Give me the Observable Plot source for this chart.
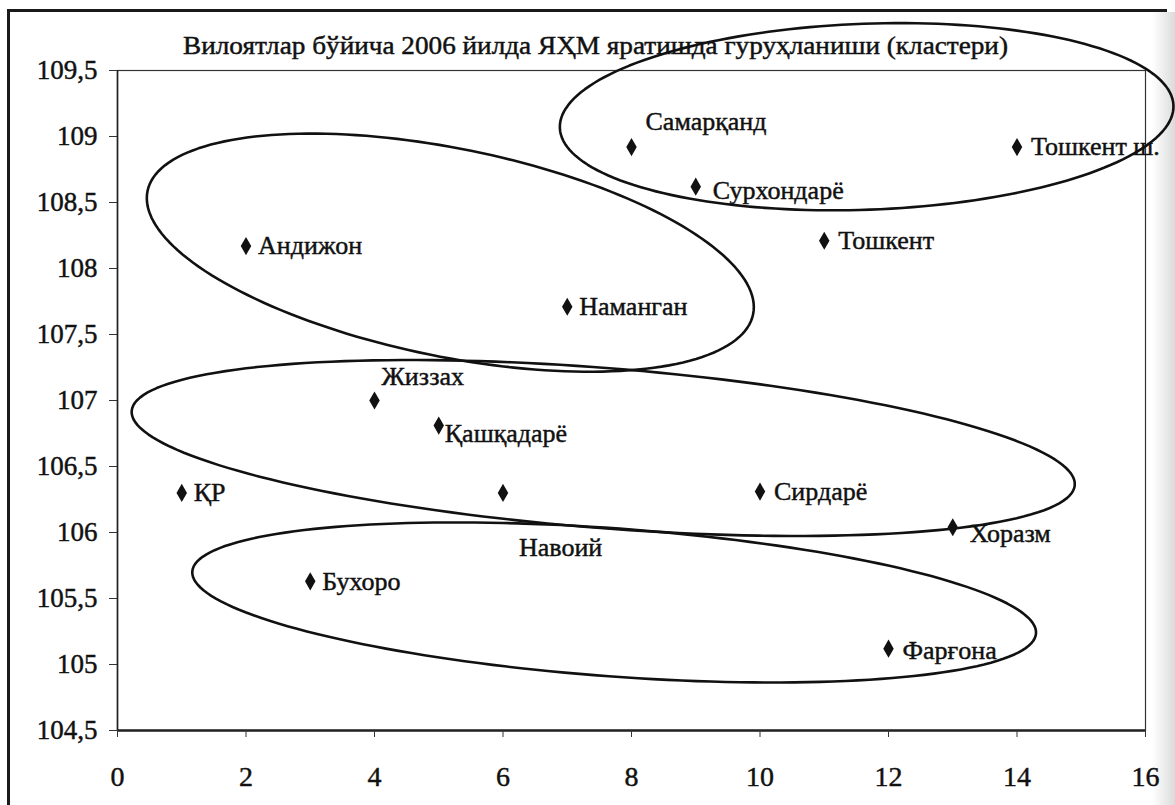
<!DOCTYPE html>
<html>
<head>
<meta charset="utf-8">
<script src="https://cdn.jsdelivr.net/npm/d3@7"></script>
<script src="https://cdn.jsdelivr.net/npm/@observablehq/plot@0.6"></script>
<style>
  html, body { margin: 0; padding: 0; background: #fff; }
  #wrap { position: relative; width: 1175px; height: 805px; overflow: hidden; background: #fff; }
  #border { position: absolute; left: 7px; top: 9px; width: 1160px; height: 800px;
            border-left: 3px solid #1a1a1a; border-top: 3px solid #1a1a1a; box-sizing: border-box; }
  #shade { position: absolute; left: 1152px; top: 12px; width: 23px; height: 793px;
           background: linear-gradient(to right, rgba(255,255,255,0), rgba(190,190,190,0.55)); }
  #chart { position: absolute; left: 0; top: 0; }
  #chart svg, #chart svg text { font-family: "Liberation Serif", "Times New Roman", serif !important; }
  #chart svg text { stroke: #111; stroke-width: 0.45px; }
</style>
</head>
<body>
<div id="wrap"><div id="border"></div><div id="shade"></div><div id="chart"></div></div>
<script>
// ---- data ----
const regions = ["ҚР", "Андижон", "Бухоро", "Жиззах", "Қашқадарё", "Навоий", "Наманган",
                 "Самарқанд", "Сурхондарё", "Сирдарё", "Тошкент", "Фарғона", "Хоразм", "Тошкент ш."];
const xValues = [1, 2, 3, 4, 5, 6, 7, 8, 9, 10, 11, 12, 13, 14];
const yValues = [106.30, 108.17, 105.63, 107.00, 106.81, 106.30, 107.71,
                 108.92, 108.62, 106.31, 108.21, 105.12, 106.04, 108.92];
const xTicks = [0, 2, 4, 6, 8, 10, 12, 14, 16];
const yTicks = [104.5, 105, 105.5, 106, 106.5, 107, 107.5, 108, 108.5, 109, 109.5];
const title = "Вилоятлар бўйича 2006 йилда ЯҲМ яратишда гуруҳланиши (кластери)";

// ---- annotation layout (label offsets in px, cluster ellipses) ----
const labelOffset = {
  "ҚР": [12, 0], "Андижон": [12, 0], "Бухоро": [12, 0], "Жиззах": [7, -24],
  "Қашқадарё": [6, 8], "Навоий": [16, 55], "Наманган": [12, 0], "Самарқанд": [14, -25],
  "Сурхондарё": [17, 4], "Сирдарё": [14, 0], "Тошкент": [14, 0], "Фарғона": [14, 2],
  "Хоразм": [17, 6], "Тошкент ш.": [14, 0]
};
// centre in data units, semi-axes in px, rotation in degrees (clockwise on screen)
const clusters = [
  {id: 1, cx: 11.66, cy: 109.15, a: 307, b: 93, rot: -2.1},
  {id: 2, cx: 5.18, cy: 108.12, a: 309, b: 104, rot: 11.5},
  {id: 3, cx: 7.56, cy: 106.64, a: 473, b: 80, rot: 4.5},
  {id: 4, cx: 7.73, cy: 105.47, a: 423, b: 74, rot: 4.2}
];

const W = 1175, H = 805, mL = 117, mR = 30, mT = 70, mB = 75;
const xDom = [0, 16], yDom = [104.5, 109.5];
const kx = (W - mL - mR) / (xDom[1] - xDom[0]);
const ky = (H - mT - mB) / (yDom[1] - yDom[0]);
const serif = "Liberation Serif";

const points = regions.map((name, i) => ({name, x: xValues[i], y: yValues[i]}));

const ellipsePts = [];
for (const c of clusters) {
  const th = c.rot * Math.PI / 180;
  for (let k = 0; k <= 180; k++) {
    const t = 2 * Math.PI * k / 180;
    const px = c.a * Math.cos(t) * Math.cos(th) - c.b * Math.sin(t) * Math.sin(th);
    const py = c.a * Math.cos(t) * Math.sin(th) + c.b * Math.sin(t) * Math.cos(th);
    ellipsePts.push({id: c.id, x: c.cx + px / kx, y: c.cy - py / ky});
  }
}

const fmt = d => String(d).replace(".", ",");

const labelMarks = points.map(p => Plot.text([p], {
  x: "x", y: "y", text: "name", textAnchor: "start",
  dx: labelOffset[p.name][0], dy: labelOffset[p.name][1],
  fontSize: 26, fontFamily: serif, fill: "#111"
}));

const chart = Plot.plot({
  width: W, height: H,
  marginLeft: mL, marginRight: mR, marginTop: mT, marginBottom: mB,
  style: {fontFamily: serif, background: "transparent", color: "#111"},
  x: {domain: xDom},
  y: {domain: yDom},
  marks: [
    Plot.frame({stroke: "#333", strokeWidth: 1.2}),
    Plot.ruleY([104.5], {stroke: "#222", strokeWidth: 2.5}),
    Plot.ruleX([0], {stroke: "#222", strokeWidth: 1.6}),
    Plot.axisX({ticks: xTicks, tickFormat: d => String(d), tickSize: 7, tickPadding: 29,
                fontSize: 28, fontFamily: serif, label: null, stroke: "#333"}),
    Plot.axisY({ticks: yTicks, tickFormat: fmt, tickSize: 8, tickPadding: 12,
                fontSize: 27, fontFamily: serif, label: null, stroke: "#333"}),
    Plot.text([title], {frameAnchor: "top", dx: -36, dy: -25, fontSize: 25, fontFamily: serif,
                        lineAnchor: "middle", fill: "#111", className: "charttitle"}),
    Plot.dot(points, {x: "x", y: "y", symbol: "diamond", r: 5.5, fill: "#111", stroke: "none"}),
    ...labelMarks,
    Plot.line(ellipsePts, {x: "x", y: "y", z: "id", stroke: "#111", strokeWidth: 2.6, curve: "linear"})
  ]
});
document.getElementById("chart").appendChild(chart);
const tt = chart.querySelector(".charttitle text");
if (tt) { tt.setAttribute("textLength", 825); tt.setAttribute("lengthAdjust", "spacingAndGlyphs"); }
</script>
</body>
</html>
